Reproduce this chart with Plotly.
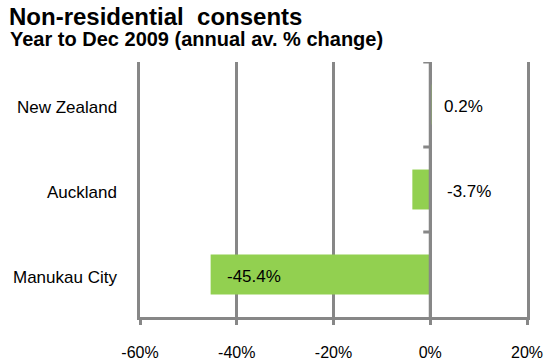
import plotly.graph_objects as go

categories = ["New Zealand", "Auckland", "Manukau City"]
values = [0.2, -3.7, -45.4]
value_labels = ["0.2%", "-3.7%", "-45.4%"]
x_tickvals = [-60, -40, -20, 0, 20]
x_ticktext = ["-60%", "-40%", "-20%", "0%", "20%"]

GREEN = "#92D050"
GRID = "#878787"
FONT = "Liberation Sans, Arial, sans-serif"

L, R, T, B = 140, 21, 62, 46
W, H = 548, 363
PW, PH = W - L - R, H - T - B

fig = go.Figure()
fig.add_trace(go.Bar(
    x=values, y=categories, orientation="h",
    marker=dict(color=GREEN, line=dict(width=0)),
    width=0.47, hoverinfo="skip",
))

# category labels (slightly below category centre, as in the reference)
for cat in categories:
    fig.add_annotation(x=0, y=cat, xref="paper", yref="y", text=cat, showarrow=False,
                       xanchor="right", xshift=-21, yshift=-3,
                       font=dict(size=17, color="black", family=FONT))

# data labels
for cat, v, lab in zip(categories, values, value_labels):
    if v < -10:
        ax, shift = v, 14
    else:
        ax, shift = 0, 12 if v >= 0 else 15
    fig.add_annotation(x=ax, y=cat, xref="x", yref="y", text=lab, showarrow=False,
                       xanchor="left", xshift=shift, yshift=-2,
                       font=dict(size=17, color="black", family=FONT))

# zero axis line drawn above bars
fig.add_shape(type="line", xref="x", yref="paper", x0=0, x1=0, y0=0, y1=1,
              line=dict(color=GRID, width=3), layer="above")
# category boundary ticks on zero axis
for b in [-0.5, 0.5, 1.5]:
    fig.add_shape(type="line", xref="x", yref="y", xsizemode="pixel", xanchor=0,
                  x0=-7, x1=0, y0=b, y1=b, line=dict(color=GRID, width=3), layer="above")

fig.update_layout(
    width=W, height=H,
    margin=dict(l=L, r=R, t=T, b=B, autoexpand=False),
    paper_bgcolor="white", plot_bgcolor="white",
    font=dict(family=FONT, size=16, color="black"),
    showlegend=False,
    title=dict(text="<b>Non-residential  consents</b>", x=9/W, xref="container", xanchor="left",
               y=1-17/H, yref="container", yanchor="middle",
               font=dict(size=24, family=FONT, color="black")),
)
fig.add_annotation(text="<b>Year to Dec 2009 (annual av. % change)</b>", xref="paper", yref="paper",
                   x=(8-L)/PW, y=1+(T-39)/PH, xanchor="left", yanchor="middle",
                   showarrow=False, font=dict(size=20, family=FONT, color="black"))

fig.update_xaxes(range=[-60, 20], tickvals=x_tickvals, ticktext=x_ticktext,
                 showgrid=True, gridcolor=GRID, gridwidth=3,
                 zeroline=False,
                 showline=True, linecolor=GRID, linewidth=3,
                 ticks="outside", ticklen=5, tickwidth=3, tickcolor=GRID,
                 ticklabelstandoff=14, tickfont=dict(size=16))
fig.update_yaxes(categoryorder="array", categoryarray=categories, autorange=False,
                 range=[2.5, -0.5], showgrid=False, zeroline=False, ticks="",
                 showticklabels=False,
                 showline=True, mirror=True, linecolor=GRID, linewidth=3)

fig.write_html("out.html")
